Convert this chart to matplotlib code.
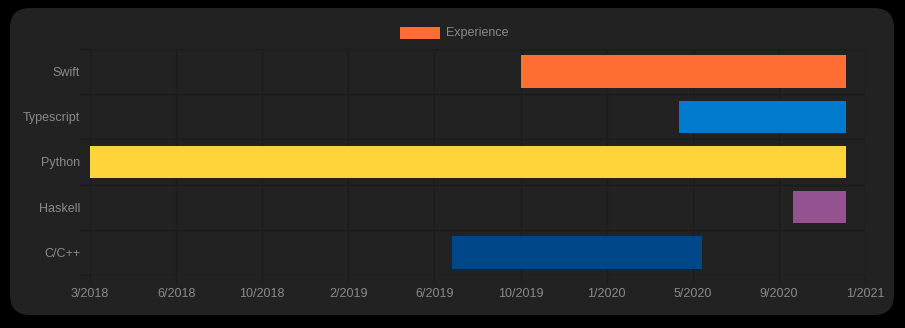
import matplotlib.pyplot as plt
import matplotlib.dates as mdates
import numpy as np
from matplotlib.patches import FancyBboxPatch, Rectangle

# languages, listed top to bottom
LANGS = ["Swift", "Typescript", "Python", "Haskell", "C/C++"]
STARTS = ["2019-09-29", "2020-04-27", "2018-03-01", "2020-09-27", "2019-06-28"]
ENDS = ["2020-12-07", "2020-12-07", "2020-12-07", "2020-12-07", "2020-05-28"]
COLORS = ["#FE6D34", "#007ACC", "#FFD43B", "#935391", "#00478A"]

X_MIN, X_MAX = "2018-03-01", "2021-01-01"
TICK_LABELS = ["3/2018", "6/2018", "10/2018", "2/2019", "6/2019",
               "10/2019", "1/2020", "5/2020", "9/2020", "1/2021"]
LEGEND_LABEL = "Experience"

BG = "#000000"
PANEL = "#222222"
GRID = "#1c1c1c"
TEXT = "#8a8a8a"

plt.rcParams["font.family"] = ["Liberation Sans", "DejaVu Sans"]

W, H = 905, 328
fig = plt.figure(figsize=(W / 100, H / 100), dpi=100)
fig.patch.set_facecolor(BG)

# rounded dark card behind the chart (pixel coordinates)
card = FancyBboxPatch((10 + 20, H - 315 + 20), 884 - 40, 307 - 40,
                      boxstyle="round,pad=20", transform=None,
                      facecolor=PANEL, edgecolor="none", zorder=-10)
fig.patches.append(card)

ax = fig.add_axes([90 / W, 1 - 275 / H, (865 - 90) / W, (275 - 49) / H])
ax.set_zorder(1)
ax.patch.set_alpha(0)

d0 = mdates.datestr2num(X_MIN)
d1 = mdates.datestr2num(X_MAX)
starts = mdates.datestr2num(STARTS)
ends = mdates.datestr2num(ENDS)
y = np.arange(len(LANGS))

ax.barh(y, ends - starts, left=starts, height=0.72, color=COLORS,
        linewidth=0, zorder=3)

ax.set_xlim(d0, d1)
ax.set_ylim(len(LANGS) - 0.5, -0.5)

ax.set_xticks(np.linspace(d0, d1, len(TICK_LABELS)))
ax.set_xticklabels(TICK_LABELS)
ax.set_yticks(y)
ax.set_yticklabels(LANGS)
ax.set_yticks(np.arange(len(LANGS) + 1) - 0.5, minor=True)

ax.tick_params(axis="x", length=6, width=1, color=GRID, pad=3.5,
               labelsize=9, labelcolor=TEXT)
ax.tick_params(axis="y", which="major", length=0, pad=7,
               labelsize=9, labelcolor=TEXT)
ax.tick_params(axis="y", which="minor", length=7.5, width=1, color=GRID)

ax.grid(axis="x", which="major", color=GRID, lw=1, zorder=1)
ax.grid(axis="y", which="minor", color=GRID, lw=1, zorder=1)
for s in ax.spines.values():
    s.set_visible(False)

# legend: colour box + label centred above the plot
fig.patches.append(Rectangle((400, H - 39), 40, 12, transform=None,
                             facecolor=COLORS[0], edgecolor="none"))
fig.text(446 / W, 1 - 33 / H, LEGEND_LABEL, ha="left", va="center",
         fontsize=9, color=TEXT)

fig.savefig("out.png", dpi=100, facecolor=BG)
